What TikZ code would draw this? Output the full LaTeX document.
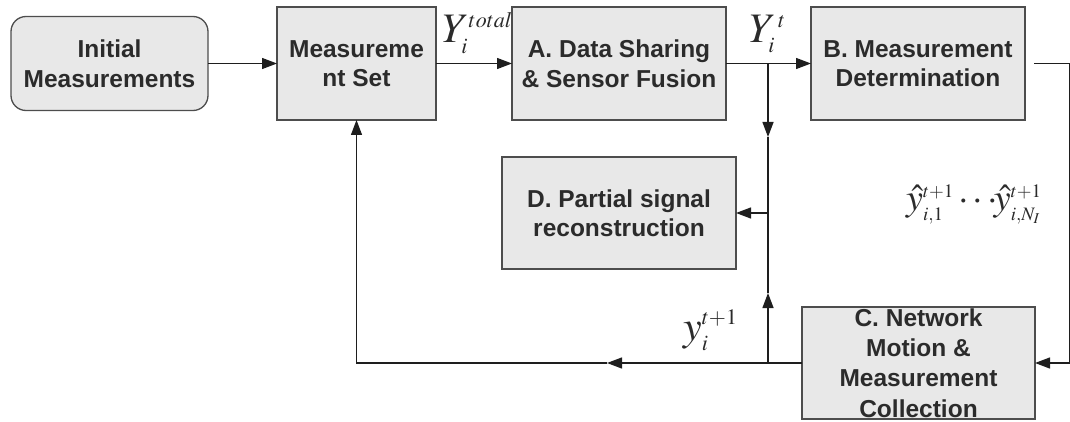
\documentclass[tikz,border=0pt]{standalone}
\usepackage{mathptmx}
\usepackage[no-math]{fontspec}
\setmainfont{Liberation Sans}
\usetikzlibrary{arrows.meta}
\DeclareMathSizes{42}{42}{22}{16}
\DeclareMathSizes{38}{38}{19}{15}
\definecolor{boxfill}{HTML}{E8E8E8}
\definecolor{boxline}{HTML}{4D4D4D}
\definecolor{textcol}{HTML}{2B2B2B}
\definecolor{wire}{HTML}{1E1E1E}
\begin{document}
\begin{tikzpicture}[x=1pt,y=-1pt,
  blk/.style={draw=boxline, fill=boxfill, line width=1.3pt, text=textcol,
    font=\fontsize{24.5}{29.5}\bfseries\selectfont, align=center,
    inner sep=0pt, outer sep=0pt},
  wire/.style={draw=wire, line width=1.3pt},
  arr/.style={wire, -{Triangle[length=15pt,width=11pt]}},
  sym/.style={inner sep=0pt, anchor=base west, text=textcol},
  big/.style={font=\fontsize{42}{42}\selectfont},
  mid/.style={font=\fontsize{38}{38}\selectfont}]
\useasboundingbox (0,0) rectangle (1070,422);

% label sitting partly under block A, so it goes first
\node[sym, big] (ytot) at (442,43) {$Y_i^{total}$};

% blocks
\node[blk, rounded corners=15pt, minimum width=197pt, minimum height=94pt]
  (init) at (109.5,63.5) {Initial\\Measurements};
\node[blk, minimum width=159pt, minimum height=113pt]
  (meas) at (356.5,63.5) {Measureme\\nt Set};
\node[blk, minimum width=214pt, minimum height=113pt]
  (A) at (619,63.5) {A. Data Sharing\\\& Sensor Fusion};
\node[blk, minimum width=214pt, minimum height=113pt]
  (B) at (918,63.5) {B. Measurement\\Determination};
\node[blk, minimum width=234pt, minimum height=112pt]
  (D) at (619,213) {D. Partial signal\\reconstruction};
\node[blk, minimum width=233pt, minimum height=112pt, font=\fontsize{24.5}{30.3}\bfseries\selectfont]
  (C) at (918.5,363) {C. Network\\Motion \&\\Measurement\\Collection};

% junction and bend points
\coordinate (j)  at (768,63.5);
\coordinate (jd) at (768,137);
\coordinate (dj) at (768,213);
\coordinate (ju) at (768,293);
\coordinate (bj) at (768,363);
\coordinate (bl) at (607,363);
\coordinate (bc) at (meas.south |- bj);
\coordinate (br) at ([xshift=9pt]B.east);
\coordinate (rt) at (1069.5,63.5);
\coordinate (rb) at (1069.5,363);

% forward chain
\draw[arr] (init) -- (meas);
\draw[arr] (meas) -- (A);
\draw[arr] (A) -- (B);

% branch to partial reconstruction
\draw[arr] (j) -- (jd);
\draw[wire] (jd) -- (dj);
\draw[arr] (dj) -- (D.east);
\draw[arr] (bj) -- (ju);
\draw[wire] (ju) -- (dj);

% feedback loop
\draw[wire] (br) -- (rt) -- (rb);
\draw[arr] (rb) -- (C.east);
\draw[wire] (C.west) -- (bj);
\draw[arr] (bj) -- (bl);
\draw[arr] (bl) -- (bc) -- (meas.south);

% signal labels
\node[sym, big] (yt) at (749,42.5) {$Y_i^{\,t}$};
\node[sym, big] (ynext) at (683,340) {$y_i^{t+1}$};
\node[sym, mid] (yhat) at (906,211)
  {$\hat{y}_{i,1}^{t+1}\mkern2mu{\cdots}\mkern-2mu\hat{y}_{i,N_I}^{t+1}$};
\end{tikzpicture}
\end{document}
